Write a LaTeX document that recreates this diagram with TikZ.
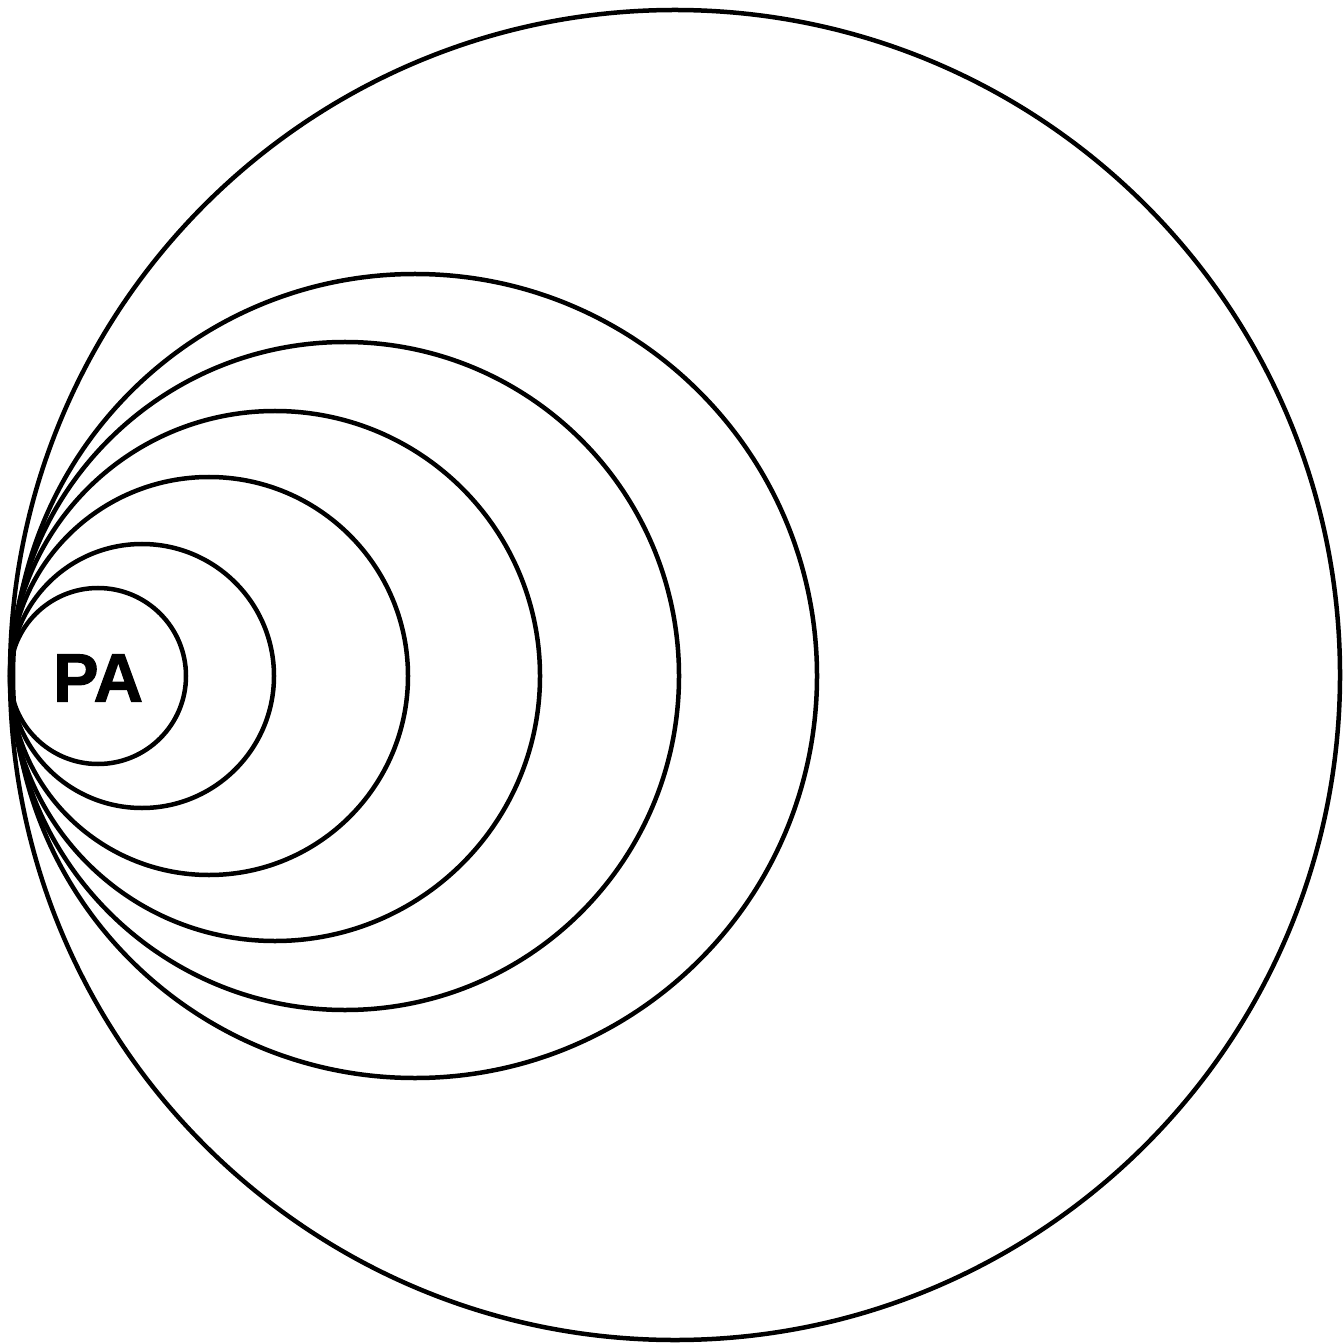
\documentclass[tikz,border=0pt]{standalone}
\usepackage{fontspec}
\setmainfont{Liberation Sans}
\newfontfamily\heavyfont{Liberation Sans}[BoldFeatures={FakeBold=1.5}]
\usepackage{tikz}
\usetikzlibrary{positioning}

\begin{document}
\begin{tikzpicture}[
    ring/.style={draw=black, line width=0.045cm},
    label/.style={font=\heavyfont\fontsize{19.5}{22}\selectfont\bfseries, inner sep=0pt}
]
\useasboundingbox (0, 0) rectangle (13.42, -13.43);

% outer circle
\draw[ring] (6.75, -6.75) circle (6.65);

% nested circles touching the left edge
\foreach \cx/\r in {0.98/0.88, 1.42/1.32, 2.09/1.99, 2.75/2.65, 3.45/3.34, 4.15/4.02}
    \draw[ring] (\cx, -6.76) circle (\r);

\node[label] (pa) at (0.98, -6.78) {PA};
\end{tikzpicture}
\end{document}
